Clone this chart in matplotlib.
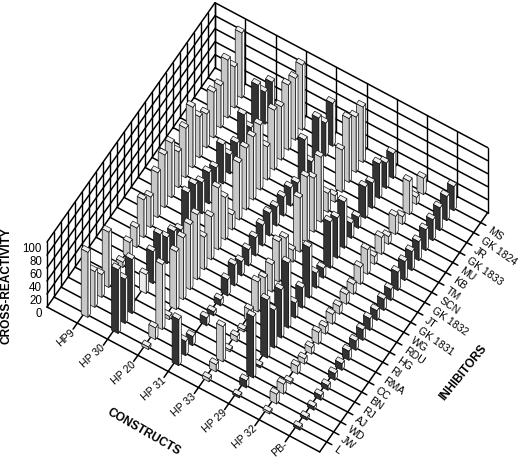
import matplotlib
matplotlib.use("Agg")
import matplotlib.pyplot as plt
from matplotlib.patches import Polygon

plt.rcParams['font.family'] = ['Liberation Sans', 'DejaVu Sans']

constructs = ["HP9", "HP 30", "HP 20", "HP 31", "HP 33", "HP 29", "HP 32", "PB-"]
inhibitors = ["L", "JW", "WD", "AJ", "RJ", "BN", "CC", "RMA", "RI", "HG", "RDU", "WG",
              "GK 1831", "JT", "GK 1832", "SCN", "TM", "KB", "MU", "GK 1833", "JR", "GK 1824", "MS"]
z_ticks = [0, 20, 40, 60, 80, 100]

hp9 = [100, 55, 35, 85, 17, 8, 23, 30, 58, 47, 69, 81, 84, 55, 76, 93, 63, 52, 70, 65, 89, 63, 100]
hp30 = [98, 68, 83, 0, 29, 49, 60, 40, 34, 21, 63, 60, 48, 48, 40, 60, 29, 32, 60, 25, 75, 49, 49]
hp20 = [4, 18, 100, 5, 89, 95, 100, 100, 50, 66, 95, 65, 23, 88, 95, 97, 100, 51, 92, 82, 100, 95, 100]
hp31 = [71, 22, 14, 0, 12, 6, 9, 25, 32, 22, 25, 28, 32, 35, 29, 29, 28, 20, 71, 22, 74, 51, 66]
hp33 = [5, 11, 54, 3, 8, 3, 18, 46, 37, 42, 62, 52, 18, 83, 100, 83, 100, 29, 10, 65, 98, 85, 85]
hp29 = [3, 11, 94, 3, 89, 58, 74, 100, 23, 31, 78, 23, 15, 71, 62, 71, 23, 17, 48, 39, 53, 39, 38]
hp32 = [3, 15, 15, 3, 12, 8, 10, 18, 11, 15, 12, 15, 15, 26, 38, 12, 26, 12, 28, 12, 51, 11, 25]
pb = [4, 4, 5, 7, 7, 10, 10, 14, 14, 16, 18, 15, 17, 17, 28, 29, 29, 29, 32, 32, 35, 37, 37]
rows = [hp9, hp30, hp20, hp31, hp33, hp29, hp32, pb]

# oblique projection (pixels)
X0, Y0 = 47.0, 307.0
AX, AY = 30.3, 16.1   # one construct
BX, BY = 7.0, -9.97   # one inhibitor
ZS = 0.65             # pixels per percent
NI = len(constructs) + 1
NJ = len(inhibitors) + 1
W_A = 0.22
W_B = 0.36


def proj(i, j, z=0):
    return (X0 + i * AX + j * BX, Y0 + i * AY + j * BY - z * ZS)


def line(ax, p, q, lw=1.1):
    ax.plot([p[0], q[0]], [p[1], q[1]], color='black', lw=lw, solid_capstyle='round', zorder=1)


def bar(ax, i, j, val, face):
    i0, i1 = i - W_A / 2, i + W_A / 2
    j0, j1 = j - W_B / 2, j + W_B / 2
    front = [proj(i0, j0), proj(i1, j0), proj(i1, j0, val), proj(i0, j0, val)]
    side = [proj(i1, j0), proj(i1, j1), proj(i1, j1, val), proj(i1, j0, val)]
    top = [proj(i0, j0, val), proj(i1, j0, val), proj(i1, j1, val), proj(i0, j1, val)]
    z = 2 + i * 100 + (NJ - j)
    ax.add_patch(Polygon(side, fc='#f8f8f8', ec='#111111', lw=0.5, zorder=z))
    ax.add_patch(Polygon(top, fc='#efefef', ec='#111111', lw=0.5, zorder=z))
    ax.add_patch(Polygon(front, fc=face, ec='#111111', lw=0.5, zorder=z))


fig = plt.figure(figsize=(5.2, 4.59), dpi=100)
ax = fig.add_axes([0, 0, 1, 1])
ax.set_xlim(0, 520)
ax.set_ylim(459, 0)
ax.axis('off')

# floor
for j in range(NJ + 1):
    line(ax, proj(0, j), proj(NI, j))
    if 0 < j < NJ:
        line(ax, proj(NI, j), proj(NI + 0.17, j))
for i in range(NI + 1):
    line(ax, proj(i, 0), proj(i, NJ))
    if 0 < i < NI:
        line(ax, proj(i, 0), proj(i, -0.6))

# walls
for z in z_ticks[1:]:
    line(ax, proj(0, 0, z), proj(0, NJ, z))
    line(ax, proj(0, NJ, z), proj(NI, NJ, z))
for j in range(NJ + 1):
    line(ax, proj(0, j), proj(0, j, 100), lw=1.0)
for i in range(NI + 1):
    line(ax, proj(i, NJ), proj(i, NJ, 100), lw=1.0)

# bars, back to front; every second construct is dark
for i, row in enumerate(rows):
    for j in range(len(row) - 1, -1, -1):
        if row[j] == 0:
            continue
        face = '#333333' if i % 2 else '#c8c8c8'
        if i == 1 and j == 4:
            face = '#ececec'
        bar(ax, i + 1.05, j + 1, row[j], face)

# tick labels
for z in z_ticks:
    x, y = proj(0, 0, z)
    ax.text(x - 5, y + 7, str(z), ha='right', va='center', fontsize=8.3, color='black')
for i, name in enumerate(constructs):
    x, y = proj(i + 1, 0)
    ax.text(x - 7, y + 4, name, ha='right', va='top', rotation=42, rotation_mode='anchor',
            fontsize=7.6, color='black')
for j, name in enumerate(inhibitors):
    x, y = proj(NI, j + 1)
    ax.text(x + 8, y + 7, name, ha='left', va='center', rotation=-35, rotation_mode='anchor',
            fontsize=7.6, color='black')

# axis titles
ax.text(7, 286, "CROSS-REACTIVITY", rotation=90, ha='center', va='center', fontsize=8.6,
        fontweight='bold', color='black')
ax.text(144, 432, "CONSTRUCTS", rotation=-30, ha='center', va='center', fontsize=8.6,
        fontweight='bold', color='black')
ax.text(463, 373, "INHIBITORS", rotation=51, ha='center', va='center', fontsize=8.6,
        fontweight='bold', color='black')

fig.savefig("out.png", dpi=100)
